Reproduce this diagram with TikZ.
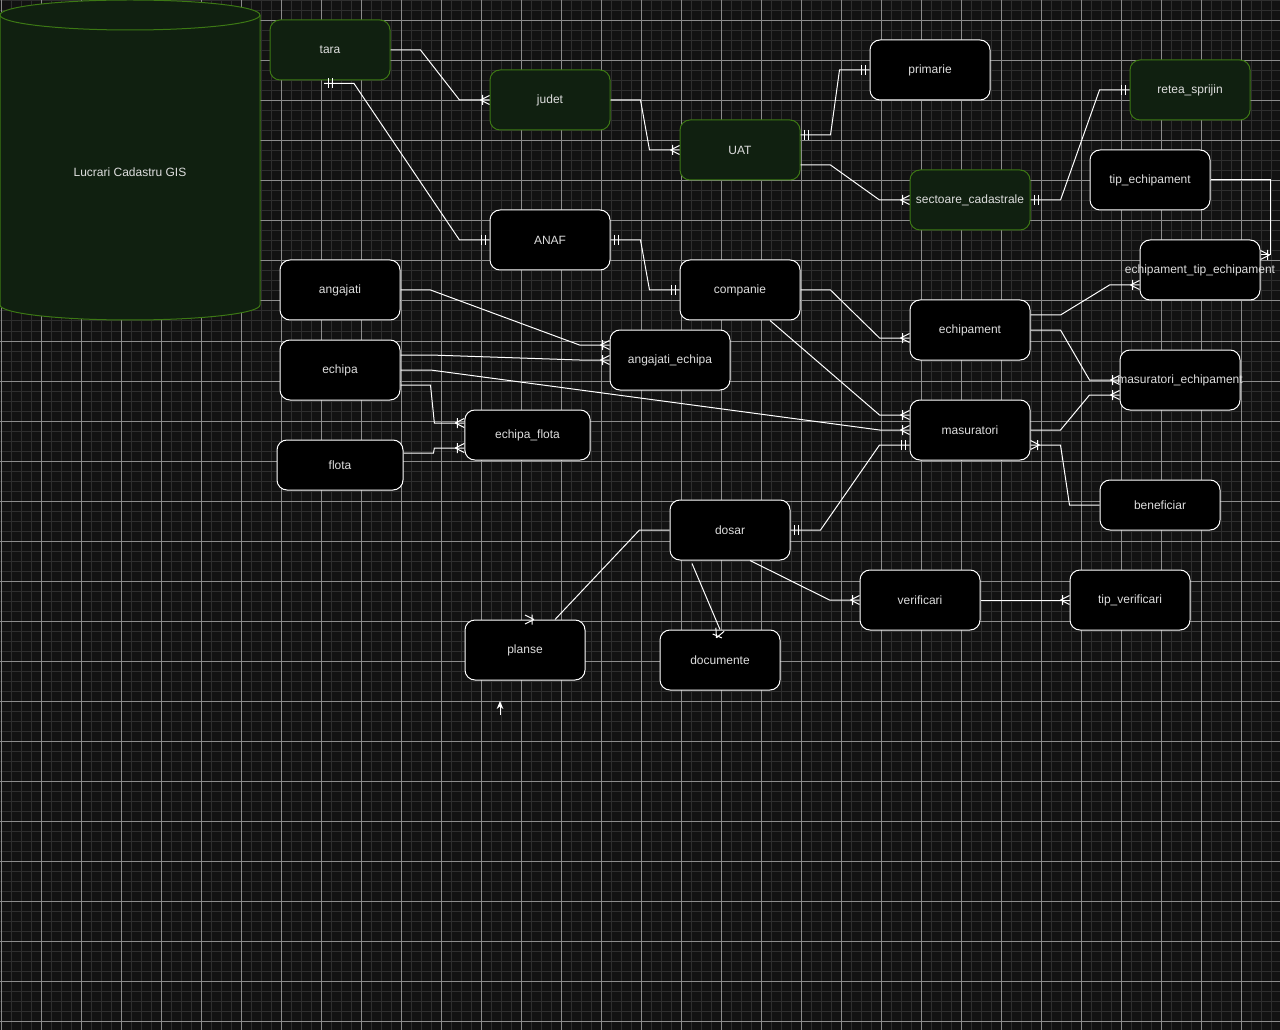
\documentclass[tikz,border=0pt]{standalone}
\usepackage{fontspec}
\setmainfont{Liberation Sans}
\usetikzlibrary{calc,arrows.meta}
\definecolor{canvasbg}{RGB}{18,18,18}
\definecolor{gridminor}{RGB}{46,46,46}
\definecolor{gridmajor}{RGB}{140,140,140}
\definecolor{gisfill}{RGB}{16,32,16}
\definecolor{gisline}{RGB}{60,120,20}
\definecolor{labeltext}{RGB}{222,222,222}
\tikzset{
  entity/.style={draw=white, fill=black, line width=0.75pt, rounded corners=7.5pt, minimum width=90pt, minimum height=45pt, inner sep=0pt, text=labeltext, font=\fontsize{9}{11}\selectfont},
  gisentity/.style={entity, draw=gisline, fill=gisfill},
  rel/.style={draw=white, line width=0.75pt},
  crowfoot/.pic={\draw[rel] (-9,0) -- (0,-4.5) (-9,0) -- (0,4.5) (-7,-5) -- (-7,5);},
  mandone/.pic={\draw[rel] (-4,-5) -- (-4,5) (-8,-5) -- (-8,5);}
}

\begin{document}
\begin{tikzpicture}[x=0.75pt,y=0.75pt,yscale=-1,xscale=1]
    \useasboundingbox (0,0) rectangle (1280,1030);

    % Canvas and grid
    \fill[canvasbg] (0,0) rectangle (1280,1030);
    \foreach \gx in {1,11,...,1271} \draw[gridminor, line width=0.75pt] (\gx,0) -- (\gx,1030);
    \foreach \gy in {1,11,...,1021} \draw[gridminor, line width=0.75pt] (0,\gy) -- (1280,\gy);
    \foreach \gx in {1,41,...,1241} \draw[gridmajor, line width=0.75pt] (\gx,0) -- (\gx,1030);
    \foreach \gy in {21,61,...,1021} \draw[gridmajor, line width=0.75pt] (0,\gy) -- (1280,\gy);

    % Database cylinder
    \filldraw[fill=gisfill, draw=gisline, line width=0.75pt] (0,15) -- (0,305) arc[start angle=180, end angle=0, x radius=97.5pt, y radius=11.25pt] -- (260,15) arc[start angle=0, end angle=-180, x radius=97.5pt, y radius=11.25pt] -- cycle;
    \draw[gisline, line width=0.75pt] (0,15) arc[start angle=180, end angle=0, x radius=97.5pt, y radius=11.25pt];
    \node[text=labeltext, font=\fontsize{9}{11}\selectfont] (gis) at (130,172) {Lucrari Cadastru GIS};

    % Entities
    \node[gisentity] (tara) at (330,50) {tara};
    \node[gisentity] (judet) at (550,100) {judet};
    \node[gisentity] (UAT) at (740,150) {UAT};
    \node[entity] (primarie) at (930,70) {primarie};
    \node[gisentity] (retea) at (1190,90) {retea\_sprijin};
    \node[gisentity] (sectoare) at (970,200) {sectoare\_cadastrale};
    \node[entity] (tipech) at (1150,180) {tip\_echipament};
    \node[entity] (echtip) at (1200,270) {\makebox[0pt]{echipament\_tip\_echipament}};
    \node[entity] (anaf) at (550,240) {ANAF};
    \node[entity] (companie) at (740,290) {companie};
    \node[entity] (angajati) at (340,290) {angajati};
    \node[entity] (echipa) at (340,370) {echipa};
    \node[entity, minimum width=94.5pt, minimum height=37.5pt] (flota) at (340,465) {flota};
    \node[entity, minimum width=94pt, minimum height=37.5pt] (echflota) at (527.5,435) {echipa\_flota};
    \node[entity] (angech) at (670,360) {angajati\_echipa};
    \node[entity] (echipament) at (970,330) {echipament};
    \node[entity] (masech) at (1180,380) {\makebox[0pt]{masuratori\_echipament}};
    \node[entity] (masuratori) at (970,430) {masuratori};
    \node[entity, minimum height=37.5pt] (beneficiar) at (1160,505) {beneficiar};
    \node[entity] (dosar) at (730,530) {dosar};
    \node[entity] (verificari) at (920,600) {verificari};
    \node[entity] (tipverif) at (1130,600) {tip\_verificari};
    \node[entity] (planse) at (525,650) {planse};
    \node[entity] (documente) at (720,660) {documente};

    % Relations
    \draw[rel] (tara.east) -- ++(30,0) -- ($(judet.west)+(-30,0)$) -- (judet.west);
    \pic at (judet.west) {crowfoot};
    \draw[rel] ($(tara.south)+(-6,3)$) -- ++(30,0) -- ($(anaf.west)+(-30,0)$) -- (anaf.west);
    \pic[rotate=180] at ($(tara.south)+(-6,3)$) {mandone};
    \pic at (anaf.west) {mandone};
    \draw[rel] (judet.east) -- ++(30,0) -- ($(UAT.west)+(-30,0)$) -- (UAT.west);
    \pic at (UAT.west) {crowfoot};
    \draw[rel] ($(UAT.east)+(0,-15)$) -- ++(30,0) -- ($(primarie.west)+(-30,0)$) -- (primarie.west);
    \pic[rotate=180] at ($(UAT.east)+(0,-15)$) {mandone};
    \pic at (primarie.west) {mandone};
    \draw[rel] ($(UAT.east)+(0,15)$) -- ++(30,0) -- ($(sectoare.west)+(-30,0)$) -- (sectoare.west);
    \pic at (sectoare.west) {crowfoot};
    \draw[rel] (sectoare.east) -- ++(30,0) -- ($(retea.west)+(-30,0)$) -- (retea.west);
    \pic[rotate=180] at (sectoare.east) {mandone};
    \pic at (retea.west) {mandone};
    \draw[rel] (tipech.east) -- ++(60,0) |- ($(echtip.east)+(0,-15)$);
    \pic[rotate=180] at ($(echtip.east)+(0,-15)$) {crowfoot};
    \draw[rel] ($(echipament.east)+(0,-15)$) -- ++(30,0) -- ($(echtip.west)+(-30,15)$) -- ($(echtip.west)+(0,15)$);
    \pic at ($(echtip.west)+(0,15)$) {crowfoot};
    \draw[rel] (anaf.east) -- ++(30,0) -- ($(companie.west)+(-30,0)$) -- (companie.west);
    \pic[rotate=180] at (anaf.east) {mandone};
    \pic at (companie.west) {mandone};
    \draw[rel] (companie.east) -- ++(30,0) -- ($(echipament.west)+(-30,8)$) -- ($(echipament.west)+(0,8)$);
    \pic at ($(echipament.west)+(0,8)$) {crowfoot};
    \draw[rel] ($(companie.south)+(30,0)$) -- ($(masuratori.west)+(-30,-15)$) -- ($(masuratori.west)+(0,-15)$);
    \pic at ($(masuratori.west)+(0,-15)$) {crowfoot};
    \draw[rel] (echipa.east) -- ++(30,0) -- ($(masuratori.west)+(-30,0)$) -- (masuratori.west);
    \pic at (masuratori.west) {crowfoot};
    \draw[rel] (dosar.east) -- ++(30,0) -- ($(masuratori.west)+(-30,15)$) -- ($(masuratori.west)+(0,15)$);
    \pic[rotate=180] at (dosar.east) {mandone};
    \pic at ($(masuratori.west)+(0,15)$) {mandone};
    \draw[rel] (masuratori.east) -- ++(30,0) -- ($(masech.west)+(-30,15)$) -- ($(masech.west)+(0,15)$);
    \pic at ($(masech.west)+(0,15)$) {crowfoot};
    \draw[rel] (echipament.east) -- ++(30,0) -- ($(masech.west)+(-30,0)$) -- (masech.west);
    \pic at (masech.west) {crowfoot};
    \draw[rel] ($(masuratori.east)+(0,15)$) -- ++(30,0) -- ($(beneficiar.west)+(-30,0)$) -- (beneficiar.west);
    \pic[rotate=180] at ($(masuratori.east)+(0,15)$) {crowfoot};
    \draw[rel] (angajati.east) -- ++(30,0) -- ($(angech.west)+(-30,-15)$) -- ($(angech.west)+(0,-15)$);
    \pic at ($(angech.west)+(0,-15)$) {crowfoot};
    \draw[rel] ($(echipa.east)+(0,-15)$) -- ++(30,0) -- ($(angech.west)+(-30,0)$) -- (angech.west);
    \pic at (angech.west) {crowfoot};
    \draw[rel] ($(echipa.east)+(0,15)$) -- ++(30,0) -- ($(echflota.west)+(-30,-12)$) -- ($(echflota.west)+(0,-12)$);
    \pic at ($(echflota.west)+(0,-12)$) {crowfoot};
    \draw[rel] ($(flota.east)+(0,-12)$) -- ++(30,0) -- ($(echflota.west)+(-30,13)$) -- ($(echflota.west)+(0,13)$);
    \pic at ($(echflota.west)+(0,13)$) {crowfoot};
    \draw[rel] (dosar.west) -- ++(-30,0) -- ($(planse.north)+(30,0)$);
    \pic[rotate=180] at (planse.north) {crowfoot};
    \draw[rel] ($(dosar.south)+(-38,3)$) -- (documente.north);
    \pic[rotate=67] at (documente.north) {crowfoot};
    \draw[rel] ($(dosar.south)+(20,0)$) -- ($(verificari.west)+(-30,0)$) -- (verificari.west);
    \pic at (verificari.west) {crowfoot};
    \draw[rel] (verificari.east) -- (tipverif.west);
    \pic at (tipverif.west) {crowfoot};

    % Pointer
    \coordinate (pointer) at (500,715);
    \draw[white, line width=0.75pt, -{Stealth[length=6pt,width=5pt]}] (pointer) -- ++(0,-14);

\end{tikzpicture}
\end{document}
